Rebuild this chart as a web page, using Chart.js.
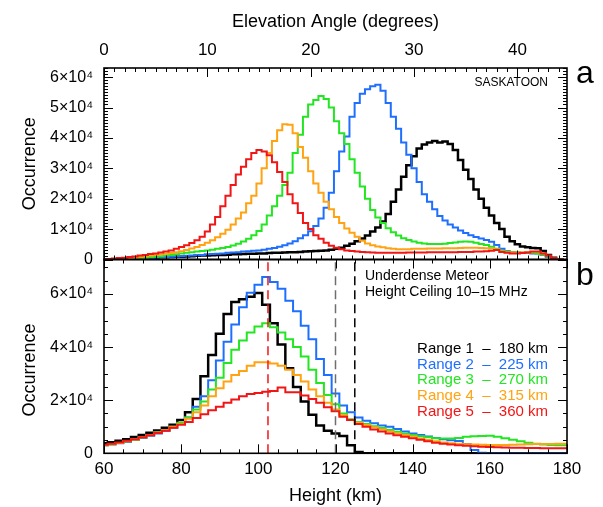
<!DOCTYPE html>
<html>
<head>
<meta charset="utf-8">
<title>Saskatoon meteor echo heights</title>
<script src="https://cdn.jsdelivr.net/npm/chart.js@4.4.1/dist/chart.umd.min.js"></script>
<style>
  html, body { margin: 0; padding: 0; background: #fff; }
  #wrap { position: relative; width: 603px; height: 507px; }
  #wrap canvas { position: absolute; left: 0; top: 0; }
</style>
</head>
<body>
<div id="wrap">
  <canvas id="angleChart" width="603" height="507"></canvas>
  <canvas id="heightChart" width="603" height="507"></canvas>
</div>
<script>
// bins (centres) for the two histograms
const angleDeg = [
  0, 0.5, 1, 1.5, 2, 2.5, 3, 3.5, 4, 4.5,
  5, 5.5, 6, 6.5, 7, 7.5, 8, 8.5, 9, 9.5,
  10, 10.5, 11, 11.5, 12, 12.5, 13, 13.5, 14, 14.5,
  15, 15.5, 16, 16.5, 17, 17.5, 18, 18.5, 19, 19.5,
  20, 20.5, 21, 21.5, 22, 22.5, 23, 23.5, 24, 24.5,
  25, 25.5, 26, 26.5, 27, 27.5, 28, 28.5, 29, 29.5,
  30, 30.5, 31, 31.5, 32, 32.5, 33, 33.5, 34, 34.5,
  35, 35.5, 36, 36.5, 37, 37.5, 38, 38.5, 39, 39.5,
  40, 40.5, 41, 41.5, 42, 42.5, 43, 43.5, 44, 44.5
];
const heightKm = [
  60, 62, 64, 66, 68, 70, 72, 74, 76, 78,
  80, 82, 84, 86, 88, 90, 92, 94, 96, 98,
  100, 102, 104, 106, 108, 110, 112, 114, 116, 118,
  120, 122, 124, 126, 128, 130, 132, 134, 136, 138,
  140, 142, 144, 146, 148, 150, 152, 154, 156, 158,
  160, 162, 164, 166, 168, 170, 172, 174, 176, 178,
  180
];

// panel a : occurrence (thousands) vs elevation angle
const angleRange1 = [
  0, 0.1, 0.1, 0.2, 0.2, 0.3, 0.3, 0.4, 0.5, 0.5,
  0.6, 0.7, 0.7, 0.8, 0.9, 0.9, 1.0, 1.1, 1.2, 1.3,
  1.3, 1.4, 1.5, 1.5, 1.6, 1.7, 1.7, 1.8, 1.9, 1.9,
  2.0, 2.0, 2.1, 2.2, 2.2, 2.3, 2.4, 2.4, 2.5, 2.6,
  2.7, 2.8, 2.9, 3.0, 3.2, 3.5, 3.9, 4.5, 5.2, 6.0,
  6.9, 7.9, 9.2, 10.5, 12.5, 15.0, 19.0, 23.0, 27.2, 31.0,
  34.0, 36.5, 37.8, 38.5, 39.0, 38.5, 38.8, 38.0, 36.0, 32.7,
  29.5, 26.5, 23.0, 20.0, 17.0, 14.5, 12.0, 10.0, 7.5, 6.0,
  5.0, 4.3, 4.0, 3.8, 3.7, 2.8, 1.5, 0.6, 0.1, 0
];
const angleRange2 = [
  0, 0, 0.1, 0.1, 0.2, 0.2, 0.3, 0.4, 0.4, 0.5,
  0.6, 0.7, 0.8, 0.9, 1.0, 1.1, 1.2, 1.3, 1.4, 1.5,
  1.7, 1.8, 1.9, 2.0, 2.2, 2.3, 2.4, 2.6, 2.7, 2.9,
  3.0, 3.2, 3.5, 3.8, 4.2, 4.7, 5.3, 6.0, 7.0, 8.0,
  9.3, 11.0, 13.5, 17.0, 22.0, 29.0, 35.5, 40.5, 47.0, 51.5,
  54.5, 56.0, 57.0, 57.5, 55.5, 51.5, 47.0, 43.0, 38.5, 34.5,
  30.0, 25.5, 21.5, 19.0, 16.5, 14.3, 12.8, 11.5, 10.5, 9.5,
  8.7, 8.0, 7.4, 6.9, 6.4, 5.8, 4.8, 3.5, 2.8, 2.5,
  2.3, 2.2, 2.1, 2.0, 2.0, 1.5, 0.8, 0.2, 0, 0
];
const angleRange3 = [
  0, 0.1, 0.1, 0.2, 0.2, 0.3, 0.4, 0.5, 0.6, 0.8,
  0.9, 1.1, 1.3, 1.5, 1.7, 2.0, 2.2, 2.4, 2.6, 2.8,
  3.0, 3.2, 3.5, 3.8, 4.1, 4.6, 5.2, 5.9, 6.8, 8.0,
  9.4, 11.5, 14.5, 17.5, 21.0, 24.5, 28.5, 35.0, 41.0, 47.0,
  51.0, 52.5, 53.8, 52.8, 50.0, 45.5, 41.5, 38.0, 33.0, 28.5,
  24.0, 20.0, 16.3, 13.8, 12.0, 10.3, 9.0, 7.9, 7.0, 6.4,
  5.9, 5.5, 5.3, 5.1, 5.1, 5.1, 5.2, 5.4, 5.6, 5.8,
  5.9, 5.8, 5.5, 5.1, 4.8, 4.2, 3.5, 2.9, 2.6, 2.4,
  2.3, 2.2, 2.2, 2.2, 2.0, 1.6, 1.0, 0.4, 0.1, 0
];
const angleRange4 = [
  0, 0.1, 0.1, 0.2, 0.3, 0.4, 0.6, 0.9, 1.1, 1.3,
  1.5, 1.7, 1.9, 2.1, 2.4, 2.7, 3.1, 3.6, 4.1, 4.8,
  5.5, 6.3, 7.3, 8.5, 9.8, 11.5, 13.5, 15.5, 18.5, 21.0,
  25.0, 30.0, 35.0, 39.0, 42.5, 44.5, 44.3, 41.5, 37.0, 33.5,
  29.0, 25.0, 22.0, 19.0, 16.5, 14.0, 12.0, 10.2, 8.8, 7.5,
  6.2, 5.3, 4.7, 4.3, 4.0, 3.7, 3.5, 3.4, 3.4, 3.4,
  3.5, 3.5, 3.5, 3.6, 3.6, 3.6, 3.7, 3.7, 3.7, 3.8,
  3.9, 3.9, 3.9, 3.8, 3.7, 3.6, 3.3, 2.6, 2.4, 2.3,
  2.3, 2.3, 2.4, 2.5, 2.5, 2.0, 1.2, 0.5, 0.1, 0
];
const angleRange5 = [
  0.1, 0.2, 0.3, 0.5, 0.6, 0.8, 1.0, 1.3, 1.5, 1.8,
  2.0, 2.3, 2.6, 3.0, 3.5, 4.1, 4.7, 5.4, 6.3, 7.5,
  9.2, 11.5, 14.0, 17.5, 21.0, 24.5, 28.0, 30.5, 33.0, 35.0,
  36.0, 35.5, 34.3, 32.0, 28.8, 25.5, 21.5, 18.5, 15.3, 12.0,
  10.0, 8.0, 6.8, 5.5, 4.5, 3.9, 3.4, 3.0, 2.8, 2.6,
  2.5, 2.4, 2.3, 2.2, 2.2, 2.2, 2.2, 2.2, 2.2, 2.3,
  2.3, 2.3, 2.3, 2.4, 2.4, 2.4, 2.4, 2.4, 2.4, 2.5,
  2.5, 2.5, 2.6, 2.6, 2.7, 2.9, 3.1, 2.5, 2.2, 2.0,
  2.0, 2.1, 2.3, 2.6, 2.6, 2.0, 1.2, 0.5, 0.1, 0
];

// panel b : occurrence (thousands) vs height
const heightRange1 = [
  3.8, 4.2, 4.7, 5.3, 6.1, 6.9, 7.7, 8.6, 9.6, 10.8,
  12.5, 15.5, 20.5, 29.0, 37.0, 45.0, 52.5, 57.0, 58.0, 59.0,
  60.4, 56.0, 49.0, 41.0, 32.0, 25.0, 19.5, 14.5, 10.5, 8.5,
  7.5, 6.5, 3.0, 0.5, 0, 0, 0, 0, 0, 0,
  0, 0, 0, 0, 0, 0, 0, 0, 0, 0,
  0, 0, 0, 0, 0, 0, 0, 0, 0, 0,
  0
];
const heightRange2 = [
  3.0, 3.3, 3.8, 4.3, 5.0, 5.8, 6.6, 7.5, 8.5, 9.6,
  11.3, 13.5, 17.5, 21.5, 27.5, 35.0, 42.0, 48.5, 55.0, 60.5,
  63.5, 66.4, 64.5, 62.0, 57.5, 53.5, 48.0, 43.0, 35.5, 29.5,
  22.5, 18.0, 15.5, 13.5, 12.3, 11.3, 10.5, 10.0, 9.2, 8.2,
  7.5, 6.9, 6.3, 5.8, 5.3, 4.9, 4.6, 3.5, 1.2, 0.2,
  0, 0, 0, 0, 0, 0, 0, 0, 0, 0,
  0
];
const heightRange3 = [
  3.0, 3.4, 3.9, 4.5, 5.2, 6.0, 6.9, 7.8, 8.8, 10.0,
  11.5, 13.5, 16.5, 19.5, 24.0, 28.5, 34.0, 39.0, 42.5, 45.5,
  47.8, 49.0, 47.5, 45.5, 43.0, 40.0, 36.5, 31.5, 26.5, 22.0,
  18.5, 15.0, 12.8, 11.8, 11.0, 10.2, 9.5, 8.8, 8.1, 7.4,
  6.9, 6.4, 6.0, 5.7, 5.6, 5.6, 5.8, 6.2, 6.4, 6.5,
  6.6, 6.2, 5.7, 5.1, 4.5, 4.0, 3.6, 3.3, 3.1, 3.0,
  3.0
];
const heightRange4 = [
  3.0, 3.4, 3.9, 4.5, 5.2, 6.0, 6.9, 7.8, 8.8, 10.0,
  11.0, 13.0, 15.5, 18.0, 21.5, 24.5, 27.0, 29.5, 31.0, 33.0,
  34.3, 34.3, 33.8, 33.0, 31.5, 29.5, 27.0, 24.0, 21.5, 19.0,
  16.5, 14.3, 12.5, 11.5, 10.7, 9.8, 9.0, 8.2, 7.5, 6.9,
  6.3, 5.6, 5.0, 4.5, 4.1, 3.8, 3.6, 3.4, 3.3, 3.2,
  3.1, 3.1, 3.1, 3.2, 3.3, 3.4, 3.5, 3.5, 3.5, 3.6,
  3.6
];
const heightRange5 = [
  3.2, 3.6, 4.1, 4.7, 5.3, 6.0, 6.8, 7.6, 8.5, 9.6,
  10.8, 11.8, 13.3, 14.7, 16.2, 17.5, 19.0, 20.3, 21.5, 22.3,
  22.7, 23.2, 23.5, 24.8, 23.0, 23.0, 21.8, 20.5, 19.0, 17.3,
  15.8, 13.8, 12.5, 11.0, 10.0, 9.0, 8.2, 7.5, 6.8, 6.2,
  5.7, 5.1, 4.5, 4.0, 3.6, 3.3, 3.0, 2.8, 2.7, 2.5,
  2.4, 2.3, 2.2, 2.1, 2.1, 2.0, 2.0, 1.9, 1.9, 1.9,
  1.9
];

const rangeLabels = ["Range 1  –  180 km", "Range 2  –  225 km", "Range 3  –  270 km",
                     "Range 4  –  315 km", "Range 5  –  360 km"];
const rangeColors = ["#000000", "#1f6fff", "#22e622", "#ffa312", "#f21515"];
const rangeWidths = [2.5, 2, 2, 2, 2];

// dashed markers in panel b (km): peak height, ceiling 10 MHz / 15 MHz
const markerKm = [102.5, 120, 125];
const markerColors = ["#f21515", "#6e6e6e", "#000000"];

const angleMax = 44.8, angleOccMax = 63;
const heightMin = 60, heightMax = 180, heightOccMax = 73;

const FONT = "'Liberation Sans', Arial, sans-serif";
Chart.defaults.font.family = FONT;
Chart.defaults.color = "#000";

// etiquetas del eje y: 0, 1×10⁴, ...
function occLabel(step) {
  return function (v) {
    if (Math.abs(v % step) > 1e-6) return null;
    return v === 0 ? "0" : (v / 10) + "×10⁴";
  };
}

function histSet(label, bins, values, i) {
  return {
    label: label,
    data: bins.map((x, k) => ({ x: x, y: values[k] })),
    borderColor: rangeColors[i],
    borderWidth: rangeWidths[i],
    stepped: "middle",
    pointRadius: 0,
    fill: false,
    order: 10 - i // la serie 5 queda encima
  };
}

// marco con marcas hacia dentro (estilo IDL)
const framePlugin = {
  id: "frame",
  afterDatasetsDraw(chart, args, opts) {
    const { ctx, chartArea: a, scales } = chart;
    ctx.save();
    ctx.strokeStyle = "#000";
    ctx.lineWidth = 1;
    const tickX = (vals, len) => {
      vals.forEach(v => {
        const px = Math.round(scales.x.getPixelForValue(v)) + 0.5;
        ctx.beginPath();
        ctx.moveTo(px, a.bottom); ctx.lineTo(px, a.bottom - len);
        ctx.moveTo(px, a.top); ctx.lineTo(px, a.top + len);
        ctx.stroke();
      });
    };
    const tickY = (vals, len) => {
      vals.forEach(v => {
        const py = Math.round(scales.y.getPixelForValue(v)) + 0.5;
        ctx.beginPath();
        ctx.moveTo(a.left, py); ctx.lineTo(a.left + len, py);
        ctx.moveTo(a.right, py); ctx.lineTo(a.right - len, py);
        ctx.stroke();
      });
    };
    tickX(opts.xMinor, 4);
    tickX(opts.xMajor, 9);
    tickY(opts.yMinor, 4);
    tickY(opts.yMajor, 9);
    ctx.lineWidth = 1.6;
    ctx.strokeRect(a.left, a.top, a.right - a.left, a.bottom - a.top);
    ctx.restore();
  }
};

// textos sueltos dentro del panel
const notesPlugin = {
  id: "notes",
  afterDraw(chart, args, opts) {
    const ctx = chart.ctx;
    (opts.items || []).forEach(t => {
      ctx.save();
      ctx.font = t.font;
      ctx.fillStyle = t.color || "#000";
      ctx.textAlign = t.align || "left";
      ctx.textBaseline = t.baseline || "middle";
      ctx.translate(t.x, t.y);
      if (t.rotate) ctx.rotate(t.rotate);
      ctx.fillText(t.text, 0, 0);
      ctx.restore();
    });
  }
};

function range(from, to, step) {
  const out = [];
  for (let v = from; v <= to + 1e-9; v += step) out.push(Math.round(v * 100) / 100);
  return out;
}

// ---------- panel a ----------
const angleSeries = [angleRange1, angleRange2, angleRange3, angleRange4, angleRange5];
new Chart(document.getElementById("angleChart"), {
  type: "line",
  data: { datasets: angleSeries.map((s, i) => histSet(rangeLabels[i], angleDeg, s, i)) },
  options: {
    responsive: false,
    animation: false,
    events: [],
    layout: { padding: { left: 0, right: 36, top: 0, bottom: 247.5 } },
    plugins: {
      legend: { display: false },
      tooltip: { enabled: false },
      frame: { xMajor: range(0, 40, 10), xMinor: range(0, 44, 1),
               yMajor: range(0, 60, 10), yMinor: range(0, 63, 1) },
      notes: { items: [
        { text: "SASKATOON", x: 548, y: 83, align: "right", font: "12px " + FONT },
        { text: "a", x: 576, y: 83, baseline: "alphabetic", font: "32px " + FONT }
      ] }
    },
    scales: {
      x: {
        type: "linear", position: "top", min: 0, max: angleMax,
        grid: { display: false, drawTicks: false }, border: { display: false },
        ticks: { stepSize: 10, includeBounds: false, autoSkip: false, maxRotation: 0, padding: 7,
                 font: { size: 17 },
                 callback: v => (Math.abs(v % 10) < 1e-6 ? String(v) : null) },
        title: { display: true, text: "Elevation Angle (degrees)", font: { size: 18 }, padding: { top: 11, bottom: 0 } },
        afterFit(s) { s.height = 68; }
      },
      y: {
        min: 0, max: angleOccMax,
        grid: { display: false, drawTicks: false }, border: { display: false },
        ticks: { stepSize: 10, includeBounds: false, autoSkip: false, padding: 11, font: { size: 16 },
                 callback: occLabel(10) },
        title: { display: true, text: "Occurrence", font: { size: 18 }, padding: { top: 19, bottom: 0 } },
        afterFit(s) { s.width = 104; }
      }
    }
  },
  plugins: [framePlugin, notesPlugin]
});

// ---------- panel b ----------
const heightSeries = [heightRange1, heightRange2, heightRange3, heightRange4, heightRange5];
const heightSets = heightSeries.map((s, i) => histSet(rangeLabels[i], heightKm, s, i));
markerKm.forEach((km, i) => {
  heightSets.push({
    data: [{ x: km, y: 0 }, { x: km, y: heightOccMax }],
    borderColor: markerColors[i], borderWidth: 1.5, borderDash: [9, 5],
    pointRadius: 0, fill: false, order: -1
  });
});

const legendItems = rangeLabels.map((t, i) => ({
  text: t, x: 548, y: 349 + i * 15.6, align: "right", color: rangeColors[i], font: "15px " + FONT
}));

new Chart(document.getElementById("heightChart"), {
  type: "line",
  data: { datasets: heightSets },
  options: {
    responsive: false,
    animation: false,
    events: [],
    layout: { padding: { left: 0, right: 36, top: 259.5, bottom: 0 } },
    plugins: {
      legend: { display: false },
      tooltip: { enabled: false },
      frame: { xMajor: range(60, 180, 20), xMinor: range(60, 180, 5),
               yMajor: range(0, 60, 20), yMinor: range(0, 70, 5) },
      notes: { items: [
        { text: "Underdense Meteor", x: 365, y: 276, font: "14px " + FONT },
        { text: "Height Ceiling 10–15 MHz", x: 365, y: 292, font: "14px " + FONT },
        { text: "b", x: 576, y: 285, baseline: "alphabetic", font: "32px " + FONT },
        { text: "Occurrence", x: 30, y: 370, align: "center", rotate: -Math.PI / 2, font: "18px " + FONT }
      ].concat(legendItems) }
    },
    scales: {
      x: {
        type: "linear", position: "bottom", min: heightMin, max: heightMax,
        grid: { display: false, drawTicks: false }, border: { display: false },
        ticks: { stepSize: 20, includeBounds: false, autoSkip: false, maxRotation: 0, padding: 6,
                 font: { size: 17 },
                 callback: v => (Math.abs(v % 20) < 1e-6 ? String(v) : null) },
        title: { display: true, text: "Height (km)", font: { size: 18 }, padding: { top: 0, bottom: 0 } },
        afterFit(s) { s.height = 53.7; }
      },
      y: {
        min: 0, max: heightOccMax,
        grid: { display: false, drawTicks: false }, border: { display: false },
        ticks: { stepSize: 20, includeBounds: false, autoSkip: false, padding: 11, font: { size: 16 },
                 callback: occLabel(20) },
        afterFit(s) { s.width = 104; }
      }
    }
  },
  plugins: [framePlugin, notesPlugin]
});
</script>
</body>
</html>
